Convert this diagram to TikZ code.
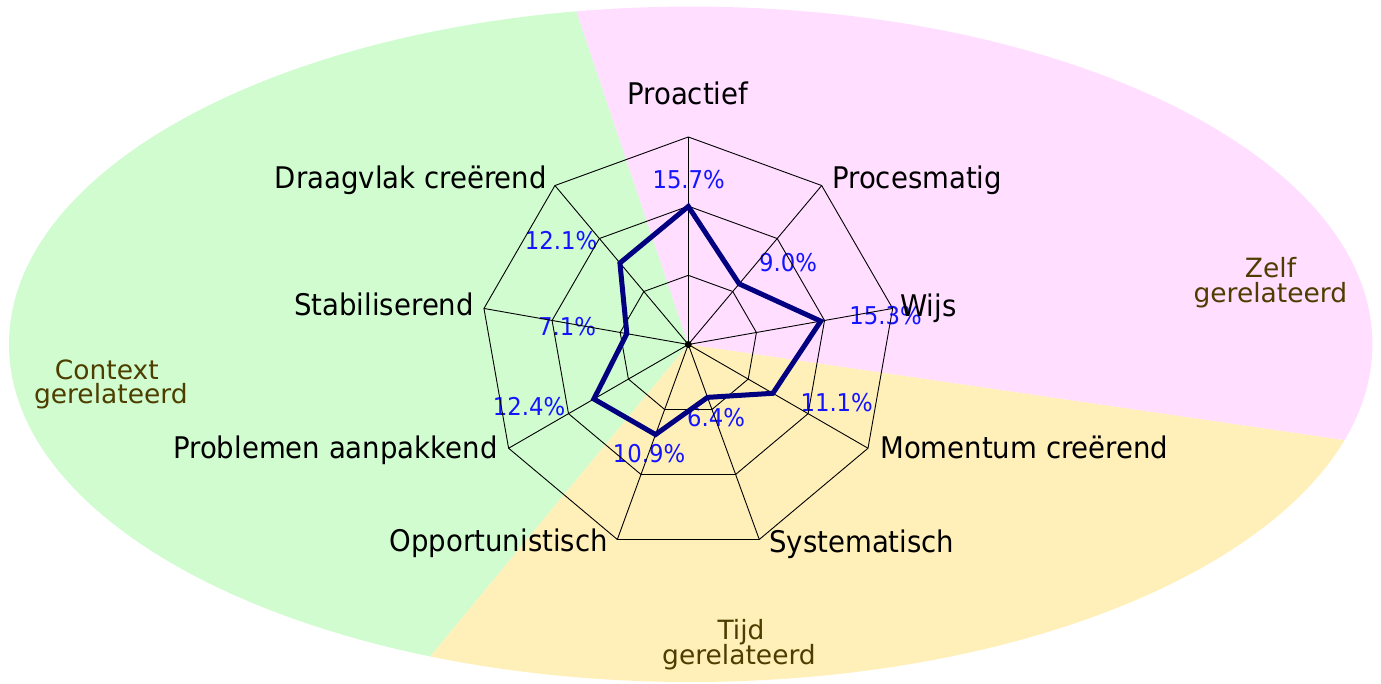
\documentclass[tikz,border=0pt]{standalone}
\usepackage{fontspec}
\setmainfont{DejaVu Sans}
\newfontfamily\axisfont{DejaVu Sans}[FakeStretch=0.925]
\newfontfamily\pctfont{DejaVu Sans}[FakeStretch=0.93]
\usetikzlibrary{calc}
\definecolor{bggreen}{RGB}{208,252,208}
\definecolor{bgpink}{RGB}{255,222,255}
\definecolor{bgyellow}{RGB}{255,240,186}
\definecolor{catcol}{RGB}{77,62,0}
\definecolor{pctblue}{RGB}{20,20,255}
\definecolor{datanavy}{RGB}{0,0,128}
\begin{document}
\begin{tikzpicture}[x=1pt,y=1pt,
  axislabel/.style={inner sep=0pt, text=black, font=\axisfont\fontsize{29.8}{32}\selectfont},
  pctlabel/.style={inner sep=0pt, text=pctblue, font=\pctfont\fontsize{24.5}{26}\selectfont},
  catlabel/.style={inner sep=0pt, anchor=base, text=catcol, font=\fontsize{26.5}{28}\selectfont},
  gridline/.style={draw=black, line width=0.9pt, line join=miter},
  dataline/.style={draw=datanavy, line width=5pt, line join=miter}
]
\useasboundingbox (0,0) rectangle (1381,684);
\coordinate (C) at (688.3,339.5);
% background sectors clipped to the ellipse
\begin{scope}
  \clip (690.7,339.7) ellipse [x radius=681.7, y radius=337.7];
  \begin{scope}[shift={(C)}]
    \fill[bggreen]  (0,0) -- (108.56:1500) -- (169.5:1500) -- (230.4:1500) -- cycle;
    \fill[bgpink]   (0,0) -- (-8.3:1500) -- (50.1:1500) -- (108.56:1500) -- cycle;
    \fill[bgyellow] (0,0) -- (230.4:1500) -- (291:1500) -- (351.7:1500) -- cycle;
  \end{scope}
\end{scope}
% category labels
\node[catlabel] (ctx1) at (106.8,304.7) {Context};
\node[catlabel] (ctx2) at (110.8,280) {gerelateerd};
\node[catlabel] (zlf1) at (1270.5,406.7) {Zelf};
\node[catlabel] (zlf2) at (1270.4,381) {gerelateerd};
\node[catlabel] (tyd1) at (741,44.7) {Tijd};
\node[catlabel] (tyd2) at (739,19.5) {gerelateerd};
% percentage labels
\node[pctlabel] (p0) at (688.7,504) {15.7\%};
\node[pctlabel] (p1) at (788,421.5) {9.0\%};
\node[pctlabel] (p2) at (885.5,368.5) {15.3\%};
\node[pctlabel] (p3) at (836.7,281.5) {11.1\%};
\node[pctlabel] (p4) at (716,266.5) {6.4\%};
\node[pctlabel] (p5) at (649,230) {10.9\%};
\node[pctlabel] (p6) at (529,277) {12.4\%};
\node[pctlabel] (p7) at (567,357) {7.1\%};
\node[pctlabel] (p8) at (561,443.5) {12.1\%};
% grid coordinates and data coordinates
\begin{scope}[shift={(C)}]
  \foreach \i in {0,...,8}{
    \coordinate (v\i) at ({90-40*\i}:207.5);
    \coordinate (m\i) at ({90-40*\i}:138.33);
    \coordinate (s\i) at ({90-40*\i}:69.17);
  }
  \foreach \val [count=\i from 0] in {15.7,9.0,15.3,11.1,6.4,10.9,12.4,7.1,12.1}{
    \coordinate (d\i) at ({90-40*\i}:{\val*207.5/23.6});
  }
\end{scope}
% grid
\foreach \i in {0,...,8}{ \draw[gridline] (C) -- (v\i); }
\draw[gridline] (v0) -- (v1) -- (v2) -- (v3) -- (v4) -- (v5) -- (v6) -- (v7) -- (v8) -- cycle;
\draw[gridline] (m0) -- (m1) -- (m2) -- (m3) -- (m4) -- (m5) -- (m6) -- (m7) -- (m8) -- cycle;
\draw[gridline] (s0) -- (s1) -- (s2) -- (s3) -- (s4) -- (s5) -- (s6) -- (s7) -- (s8) -- cycle;
% data polygon
\draw[dataline] (d0) -- (d1) -- (d2) -- (d3) -- (d4) -- (d5) -- (d6) -- (d7) -- (d8) -- cycle;
\fill[black] (C) circle (3.5);
% axis labels
\node[axislabel, anchor=base] (a0) at (687.7,579) {Proactief};
\node[axislabel, anchor=base west] (a1) at (832,495.7) {Procesmatig};
\node[axislabel, anchor=base west] (a2) at (900,367.3) {Wijs};
\node[axislabel, anchor=base west] (a3) at (880,225.7) {Momentum creërend};
\node[axislabel, anchor=base west] (a4) at (769,131.7) {Systematisch};
\node[axislabel, anchor=base east] (a5) at (608,132.3) {Opportunistisch};
\node[axislabel, anchor=base east] (a6) at (497.8,225.7) {Problemen aanpakkend};
\node[axislabel, anchor=base east] (a7) at (474.1,368) {Stabiliserend};
\node[axislabel, anchor=base east] (a8) at (547,495) {Draagvlak creërend};
\end{tikzpicture}
\end{document}
